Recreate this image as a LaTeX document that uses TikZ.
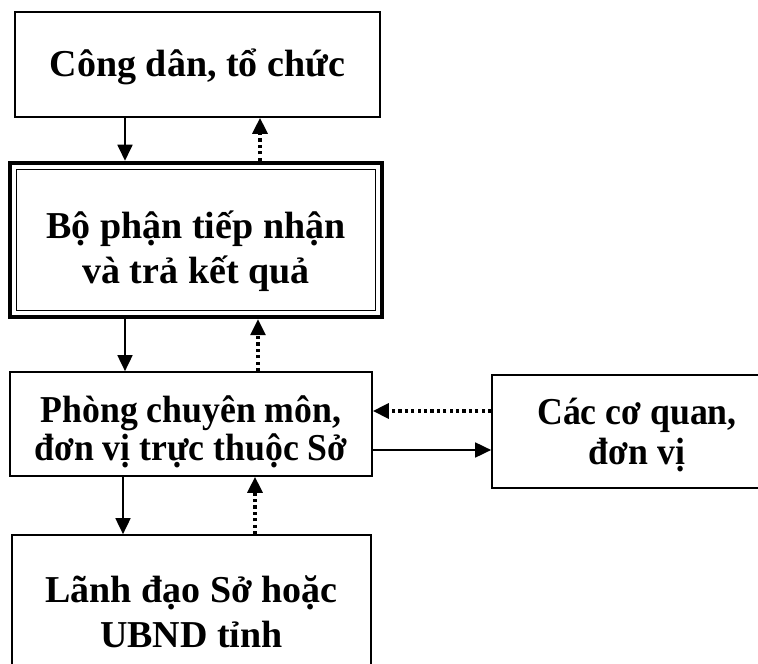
\documentclass[tikz,border=0pt]{standalone}
\usepackage{fontspec}
\setmainfont{Liberation Serif}
\newfontfamily\condserif[FakeStretch=0.94]{Liberation Serif}
\usetikzlibrary{arrows.meta,calc}
\begin{document}
\begin{tikzpicture}[x=1pt,y=1pt,
  box/.style={draw,rectangle,line width=1.7pt,inner sep=0pt},
  txt/.style={inner sep=0pt,align=center,font=\fontsize{38}{45}\selectfont\bfseries},
  ctxt/.style={inner sep=0pt,align=center,font=\condserif\fontsize{38}{#1}\selectfont\bfseries},
  solidarrow/.style={line width=1.8pt,-{Triangle[length=16pt,width=15pt]}},
  dotarrow/.style={line width=3.2pt,dash pattern=on 3.2pt off 3.2pt,
    -{Triangle[length=16pt,width=15pt]}}]
\useasboundingbox (0,0) rectangle (758,664);
\clip (0,0) rectangle (758,664);
\fill[white] (0,0) rectangle (758,664);

% boxes
\node[box,minimum width=365pt,minimum height=105pt] (b1) at (197.5,599.5) {};
\node[box,line width=4.5pt,minimum width=372pt,minimum height=154pt] (b2) at (196,424) {};
\draw[line width=1.3pt] ($(b2.north west)+(9,-9)$) rectangle ($(b2.south east)+(-9,9)$);
\node[box,minimum width=362pt,minimum height=104pt] (b3) at (191,240) {};
\node[box,minimum width=359pt,minimum height=170pt] (b4) at (191.5,44) {};
\node[box,minimum width=290pt,minimum height=113pt] (b5) at (637,232.5) {};

% texts
\node[txt] (t1) at ($(b1.center)+(0,-2)$) {Công dân, tổ chức};
\node[txt] (t2) at ($(b2.center)+(0,-11)$) {Bộ phận tiếp nhận\\và trả kết quả};
\node[ctxt=38] (t3) at ($(b3.center)+(0,-8)$) {Phòng chuyên môn,\\đơn vị trực thuộc Sở};
\node[txt] (t4) at ($(b4.center)+(0,8)$) {Lãnh đạo Sở hoặc\\UBND tỉnh};
\node[ctxt=40] (t5) at ($(b5.center)+(0,-4)$) {Các cơ quan,\\đơn vị};

\coordinate (xa) at (125,0);
\coordinate (xb) at (260,0);
\coordinate (xc) at (125,0);
\coordinate (xd) at (258,0);
\coordinate (xe) at (123,0);
\coordinate (xf) at (255,0);
\coordinate (ya) at (0,253);
\coordinate (yb) at (0,214);

\draw[solidarrow] (b1.south -| xa) -- (b2.north -| xa);
\draw[dotarrow] (b2.north -| xb) -- (b1.south -| xb);
\draw[solidarrow] (b2.south -| xc) -- (b3.north -| xc);
\draw[dotarrow] (b3.north -| xd) -- (b2.south -| xd);
\draw[solidarrow] (b3.south -| xe) -- (b4.north -| xe);
\draw[dotarrow] (b4.north -| xf) -- (b3.south -| xf);
\draw[dotarrow] (b5.west |- ya) -- (b3.east |- ya);
\draw[solidarrow] (b3.east |- yb) -- (b5.west |- yb);
\end{tikzpicture}
\end{document}
